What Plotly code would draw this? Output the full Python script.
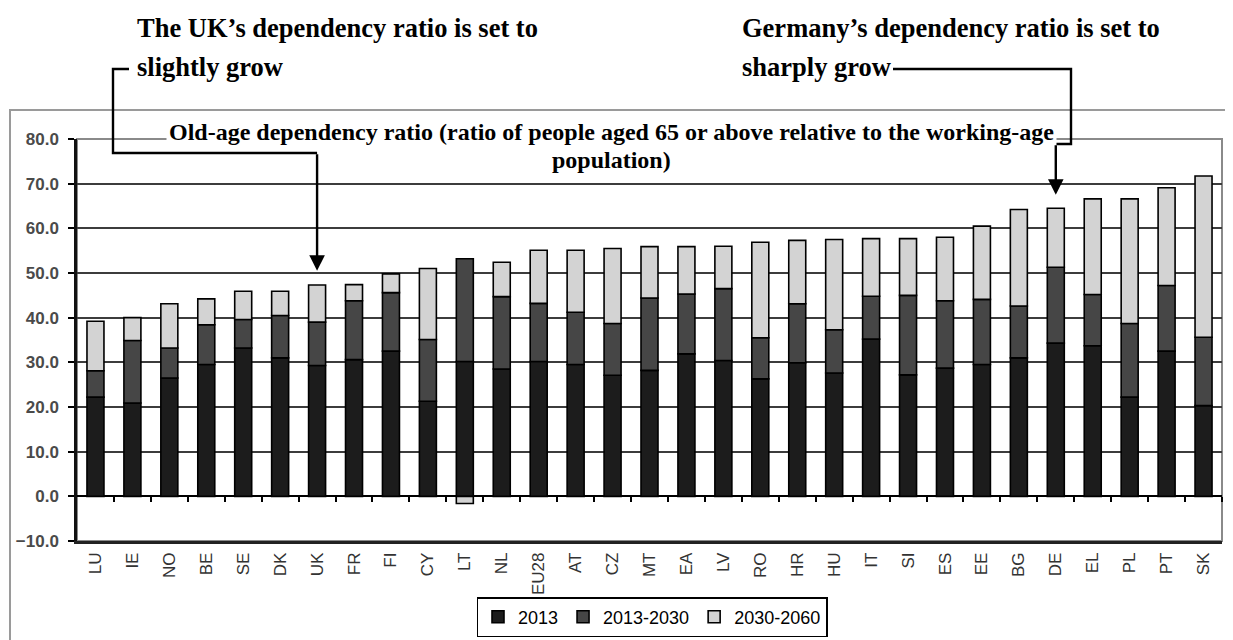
import plotly.graph_objects as go

countries = ["LU", "IE", "NO", "BE", "SE", "DK", "UK", "FR", "FI", "CY", "LT", "NL", "EU28", "AT",
             "CZ", "MT", "EA", "LV", "RO", "HR", "HU", "IT", "SI", "ES", "EE", "BG", "DE", "EL",
             "PL", "PT", "SK"]
v_2013 = [22.2, 20.9, 26.5, 29.5, 33.2, 31.0, 29.3, 30.6, 32.5, 21.3, 30.2, 28.5, 30.2, 29.5,
          27.1, 28.2, 31.9, 30.4, 26.3, 29.9, 27.6, 35.2, 27.2, 28.7, 29.5, 31.0, 34.3, 33.7,
          22.2, 32.5, 20.3]
v_2013_2030 = [5.9, 14.0, 6.7, 8.9, 6.4, 9.5, 9.7, 13.2, 13.1, 13.8, 23.0, 16.2, 13.0, 11.7,
               11.6, 16.2, 13.4, 16.1, 9.2, 13.2, 9.7, 9.6, 17.8, 15.1, 14.6, 11.6, 17.0, 11.5,
               16.5, 14.7, 15.3]
v_2030_2060 = [11.1, 5.1, 9.9, 5.8, 6.3, 5.4, 8.3, 3.6, 4.2, 15.9, -1.6, 7.7, 11.9, 13.9,
               16.8, 11.5, 10.6, 9.5, 21.4, 14.2, 20.2, 12.9, 12.7, 14.2, 16.4, 21.6, 13.2, 21.4,
               27.9, 21.9, 36.1]
series_names = ["2013", "2013-2030", "2030-2060"]
series_colors = ["#1c1c1c", "#464646", "#d3d3d3"]
y_ticks = [-10, 0, 10, 20, 30, 40, 50, 60, 70, 80]

title_line1 = "Old-age dependency ratio (ratio of people aged 65 or above relative to the working-age"
title_line2 = "population)"
uk_note = ["The UK’s dependency ratio is set to", "slightly grow"]
de_note = ["Germany’s dependency ratio is set to", "sharply grow"]

# page body has an 8px margin; figure is sized so the page matches the 1233x640 window
OFF = 8
W, H = 1233 - OFF, 640 - OFF
PLOT_L, PLOT_R, PLOT_T, PLOT_B = 77, 1222, 139, 541   # page pixel coords of the plot area
ML, MT = PLOT_L - OFF, PLOT_T - OFF
MR = W - (PLOT_R - OFF)
MB = H - (PLOT_B - OFF)
PW = PLOT_R - PLOT_L
PH = PLOT_B - PLOT_T
N = len(countries)
step = PW / N


def px(xp):
    return (xp - PLOT_L) / PW


def py(yp):
    return (PLOT_B - yp) / PH


def cx(xp):
    return (xp - PLOT_L) / step - 0.5


fig = go.Figure()
for name, vals, col in zip(series_names, [v_2013, v_2013_2030, v_2030_2060], series_colors):
    fig.add_trace(go.Bar(x=countries, y=vals, name=name, marker_color=col,
                         marker_line=dict(color="#000000", width=1.6)))

fig.add_trace(go.Scatter(x=[None], y=[None], xaxis="x2", showlegend=False, hoverinfo="skip"))

totals = [a + b + max(c, 0) for a, b, c in zip(v_2013, v_2013_2030, v_2030_2060)]
i_uk = countries.index("UK")
i_de = countries.index("DE")

serif = "Liberation Serif, Times New Roman, serif"
note_font = dict(family=serif, size=26.5, color="#000", weight="bold")
title_font = dict(family=serif, size=24, color="#000", weight="bold")
annotations = [
    dict(text=uk_note[0], x=px(135), y=py(28), xref="paper", yref="paper", xanchor="left",
         yanchor="middle", showarrow=False, font=note_font),
    dict(text=uk_note[1], x=px(135), y=py(67), xref="paper", yref="paper", xanchor="left",
         yanchor="middle", showarrow=False, font=note_font),
    dict(text=de_note[0], x=px(740), y=py(28), xref="paper", yref="paper", xanchor="left",
         yanchor="middle", showarrow=False, font=note_font),
    dict(text=de_note[1], x=px(740), y=py(67), xref="paper", yref="paper", xanchor="left",
         yanchor="middle", showarrow=False, font=note_font),
    dict(text=title_line1, x=px(611), y=py(132), xref="paper", yref="paper", xanchor="center",
         yanchor="middle", showarrow=False, bgcolor="#ffffff", borderpad=2, font=title_font),
    dict(text=title_line2, x=px(611), y=py(160), xref="paper", yref="paper", xanchor="center",
         yanchor="middle", showarrow=False, font=title_font),
    dict(text="", x=countries[i_uk], y=totals[i_uk] + 3.2, xref="x", yref="y", ax=0,
         ay=-118, showarrow=True, arrowhead=2, arrowsize=1.3, arrowwidth=2.4,
         arrowcolor="#000"),
    dict(text="", x=countries[i_de], y=totals[i_de] + 3.0, xref="x", yref="y", ax=0,
         ay=-51, showarrow=True, arrowhead=2, arrowsize=1.3, arrowwidth=2.4, arrowcolor="#000"),
]

shapes = [
    # outer chart frame
    dict(type="rect", xref="paper", yref="paper", x0=px(10), x1=px(1250), y0=py(660), y1=py(110),
         line=dict(color="#9a9a9a", width=2), fillcolor="rgba(0,0,0,0)", layer="below"),
    # plot area frame
    dict(type="rect", xref="paper", yref="paper", x0=0, x1=1, y0=0, y1=1,
         line=dict(color="#8a8a8a", width=2), fillcolor="rgba(0,0,0,0)", layer="below"),
    # UK bracket
    dict(type="path", xref="x", yref="paper",
         path=f"M {cx(129)},{py(69)} L {cx(113)},{py(69)} L {cx(113)},{py(153)} L {i_uk},{py(153)}",
         line=dict(color="#000", width=2.4)),
    # DE bracket
    dict(type="path", xref="x", yref="paper",
         path=f"M {cx(893)},{py(69)} L {cx(1071)},{py(69)} L {cx(1071)},{py(144)} L {i_de},{py(144)}",
         line=dict(color="#000", width=2.4)),
]

fig.update_layout(
    width=W, height=H,
    margin=dict(l=ML, r=MR, t=MT, b=MB, pad=0, autoexpand=False),
    paper_bgcolor="#ffffff", plot_bgcolor="#ffffff",
    barmode="relative", bargap=0.54,
    showlegend=True,
    legend=dict(orientation="h", xref="container", yref="container",
                x=(652 - OFF) / W, xanchor="center", y=1 - (597 - OFF) / H, yanchor="top",
                bordercolor="#000", borderwidth=1.5, bgcolor="#fff", traceorder="normal",
                itemwidth=30, font=dict(family="Arial", size=18, color="#000")),
    xaxis=dict(type="category", range=[-0.5, N - 0.5], showgrid=False, ticks="",
               tickangle=-90, tickfont=dict(family="Arial", size=17, color="#333"),
               showline=True, linecolor="#222", linewidth=2.5, ticklabelstandoff=2,
               zeroline=False),
    xaxis2=dict(overlaying="x", anchor="free", position=10 / 90, range=[-0.5, N - 0.5],
                showgrid=False, zeroline=False, showline=False, showticklabels=False,
                tickmode="array", tickvals=[i + 0.5 for i in range(N)], ticks="outside",
                ticklen=5, tickwidth=1.5, tickcolor="#000"),
    yaxis=dict(range=[-10, 80], tickvals=y_ticks, tickformat=".1f", showgrid=True,
               gridcolor="#3c3c3c", gridwidth=1.6, zeroline=True, zerolinecolor="#000",
               zerolinewidth=2, showline=True, linecolor="#111", linewidth=2.5,
               ticks="outside", ticklen=6, tickwidth=1.5, tickcolor="#000",
               ticklabelstandoff=6,
               tickfont=dict(family="Arial", size=17, color="#4a4a4a", weight="bold")),
    annotations=annotations,
    shapes=shapes,
)

fig.write_html("out.html")
